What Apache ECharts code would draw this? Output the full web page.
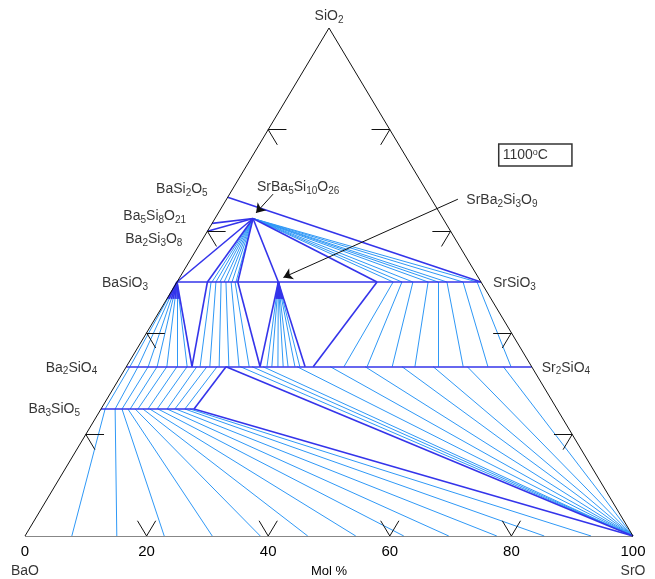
<!DOCTYPE html>
<html><head><meta charset="utf-8">
<script src="https://cdn.jsdelivr.net/npm/echarts@6/dist/echarts.min.js"></script>
<style>html,body{margin:0;padding:0;background:#fff}#c{width:655px;height:579px}</style>
</head><body><div id="c"></div>
<script>
// ---------- data (compositions: [SiO2 mol %, Sr/(Sr+Ba) cation %]) ----------
const tickValues = [0, 20, 40, 60, 80, 100];
const edgeMarks = [20, 40, 60, 80];
const temperatureLabel = '1100';

// phase points: name, SiO2 %, Sr cation %
const phaseNames = ['BaO','SrO','SiO2','BaSi2O5','Ba5Si8O21','Ba2Si3O8','SrBa5Si10O26','SrBa2Si3O9','BaSiO3','SrSiO3','Ba2SiO4','Sr2SiO4','Ba3SiO5'];
const phaseSiO2  = [0, 0, 100, 66.67, 61.54, 60, 62.5, 50, 50, 50, 33.33, 33.33, 25];
const phaseSr    = [0, 100, 0, 0, 0, 0, 16.67, 33.33, 0, 100, 0, 100, 0];

// joins (SiO2 level of each solid-solution line)
const META = 50, ORTHO = 100/3, OXY = 25, OXIDE = 0;

// boundary (dark) lines: [SiO2 a, Sr a, SiO2 b, Sr b]
const darkLines = [
  [66.67,0, 50,100],
  [62.5,16.67, 61.54,0],
  [62.5,16.67, 60,0],
  [62.5,16.67, 50,0],
  [62.5,16.67, 50,10],
  [62.5,16.67, 50,20],
  [62.5,16.67, 50,33.33],
  [62.5,16.67, 50,65.8],
  [50,0, 33.33,16.2],
  [33.33,16.2, 50,10],
  [50,20, 33.33,33],
  [33.33,33, 50,33.33],
  [50,33.33, 33.33,44.1],
  [50,65.8, 33.33,46.1],
  [33.33,24.6, 25,20.4],
  [33.33,24.6, 0,100],
  [25,20.4, 0,100],
  [50,0, 50,100],
  [33.33,0, 33.33,100],
  [25,0, 25,20.4]
];

// tie lines (light), Sr cation % on each join
const fanF_meta = [11.5, 12.8, 14.1, 15.5, 16.8, 18.1, 19.4, 71.1, 74, 77.6, 82.6, 85.9, 88.8, 94.1, 98.7];
const fanBaSiO3_ortho = [0.9, 2.9, 5.4, 7.6, 10, 12.5, 15];
const fanS9_ortho = [34.7, 35.9, 37.4, 38.7, 39.9, 41.6, 42.8];
const metaOrtho_meta  = [11.2, 12.8, 14.5, 16.1, 17.8, 19.1, 71.1, 74, 77.6, 82.6, 85.9, 88.8, 94.1, 98.7];
const metaOrtho_ortho = [18.2, 20.6, 22.9, 25.3, 27.8, 30.3, 53.7, 59.4, 65.6, 71.2, 76.9, 83.1, 89.2, 94.9];
const orthoOxy_ortho = [0.9, 2.9, 5.4, 7.6, 10, 12.5, 15, 17.4, 19.9, 22.4];
const orthoOxy_oxy   = [0.9, 3.1, 4.6, 6.4, 8.1, 10.3, 12.3, 14.5, 16.2, 18.4];
const fanSrO_ortho = [28.1, 31, 33.7, 42.1, 50.3, 58.9, 68, 75.7, 84.1, 93];
const oxyOxide_oxy   = [0.9, 3.1, 4.6, 5.9, 7.5, 9.2, 10.7, 12.5, 14.5, 16.4, 18.4, 19.5];
const oxyOxide_oxide = [7.7, 15.1, 22.9, 30.8, 38.7, 46.5, 54.4, 62.3, 69.7, 77.6, 85.4, 93.1];

// ---------- ternary -> cartesian ----------
function cart(s, r) { const sro = r * (100 - s) / 100; return [sro + s / 2, s]; }
function ph(name) { const i = phaseNames.indexOf(name); return cart(phaseSiO2[i], phaseSr[i]); }
function seg(a, b) { return { coords: [a, b] }; }
function along(a, b, f) { return [a[0] + (b[0] - a[0]) * f, a[1] + (b[1] - a[1]) * f]; }

const DARK = '#3434ea', LIGHT = '#2f98f6', INK = '#000';
const F = ph('SrBa5Si10O26'), S9 = ph('SrBa2Si3O9'), BS = ph('BaSiO3'), SRO = ph('SrO');

const lightSegs = [];
const blobSegs = [];   // dense convergence near BaSiO3 / SrBa2Si3O9 apexes
fanF_meta.forEach(r => lightSegs.push(seg(F, cart(META, r))));
fanBaSiO3_ortho.forEach(r => { const e = cart(ORTHO, r); lightSegs.push(seg(BS, e)); blobSegs.push(seg(BS, along(BS, e, 0.2))); });
fanS9_ortho.forEach(r => { const e = cart(ORTHO, r); lightSegs.push(seg(S9, e)); blobSegs.push(seg(S9, along(S9, e, 0.2))); });
metaOrtho_meta.forEach((r, i) => lightSegs.push(seg(cart(META, r), cart(ORTHO, metaOrtho_ortho[i]))));
orthoOxy_ortho.forEach((r, i) => lightSegs.push(seg(cart(ORTHO, r), cart(OXY, orthoOxy_oxy[i]))));
fanSrO_ortho.forEach(r => lightSegs.push(seg(cart(ORTHO, r), SRO)));
oxyOxide_oxy.forEach((r, i) => lightSegs.push(seg(cart(OXY, r), cart(OXIDE, oxyOxide_oxide[i]))));

const darkSegs = darkLines.map(d => seg(cart(d[0], d[1]), cart(d[2], d[3])));

const edgeSegs = [seg(ph('BaO'), ph('SrO')), seg(ph('SrO'), ph('SiO2')), seg(ph('SiO2'), ph('BaO'))];
const t = 3;
edgeMarks.forEach(v => {
  edgeSegs.push(seg([v, 0], [v - t / 2, t]));
  edgeSegs.push(seg([v, 0], [v + t / 2, t]));
  edgeSegs.push(seg([v / 2, v], [v / 2 + t, v]));
  edgeSegs.push(seg([v / 2, v], [v / 2 + t / 2, v - t]));
  edgeSegs.push(seg([100 - v / 2, v], [100 - v / 2 - t, v]));
  edgeSegs.push(seg([100 - v / 2, v], [100 - v / 2 - t / 2, v - t]));
});

// ---------- labels ----------
function chem(s) { return s.replace(/(\d+)/g, '{s|$1}'); }
const FONT = 'Liberation Sans';
const rich = { s: { fontSize: 10, fontFamily: FONT, color: INK, verticalAlign: 'bottom', lineHeight: 10 } };
function lab(name, pos, align, dx, dy, text) {
  return { value: pos, label: { show: true, formatter: chem(text || name), position: [dx, dy], align: align, verticalAlign: 'middle' } };
}
const labelData = [
  lab('SiO2', ph('SiO2'), 'center', 0, -12),
  lab('BaSi2O5', ph('BaSi2O5'), 'right', -20, -8),
  lab('Ba5Si8O21', ph('Ba5Si8O21'), 'right', -26, -7),
  lab('Ba2Si3O8', ph('Ba2Si3O8'), 'right', -25, 8),
  lab('BaSiO3', ph('BaSiO3'), 'right', -29, 1),
  lab('Ba2SiO4', ph('Ba2SiO4'), 'right', -29, 1),
  lab('Ba3SiO5', ph('Ba3SiO5'), 'right', -21, 0),
  lab('SrSiO3', ph('SrSiO3'), 'left', 12, 1),
  lab('Sr2SiO4', ph('Sr2SiO4'), 'left', 10, 1),
  lab('SrBa5Si10O26', F, 'left', 4, -31),
  lab('BaO', ph('BaO'), 'center', 0, 35),
  lab('SrO', ph('SrO'), 'center', 0, 35),
  lab('SrBa2Si3O9', [71.6, 66.5], 'left', 6, 2)
];

const chart = echarts.init(document.getElementById('c'), null, { renderer: 'canvas' });
chart.setOption({
  animation: false,
  backgroundColor: '#fff',
  grid: { left: 25, right: 22, top: 28, bottom: 43, containLabel: false, outerBoundsMode: 'none' },
  xAxis: {
    type: 'value', min: 0, max: 100, interval: 20,
    axisLine: { show: false }, axisTick: { show: false }, splitLine: { show: false },
    axisLabel: { show: true, color: INK, fontSize: 15, fontFamily: FONT, margin: 8, formatter: v => tickValues.includes(v) ? String(v) : '' },
    name: 'Mol %', nameLocation: 'middle', nameGap: 29, nameTextStyle: { color: INK, fontSize: 13, fontFamily: FONT }
  },
  yAxis: { type: 'value', min: 0, max: 100, show: false },
  series: [
    { type: 'lines', coordinateSystem: 'cartesian2d', polyline: false, silent: true, z: 1,
      lineStyle: { color: LIGHT, width: 1, opacity: 1 }, data: lightSegs },
    { type: 'lines', coordinateSystem: 'cartesian2d', polyline: false, silent: true, z: 2,
      lineStyle: { color: DARK, width: 1.6, opacity: 1 }, data: darkSegs.concat(blobSegs) },
    { type: 'lines', coordinateSystem: 'cartesian2d', polyline: false, silent: true, z: 3,
      lineStyle: { color: '#111', width: 1, opacity: 1 }, data: edgeSegs },
    { type: 'lines', coordinateSystem: 'cartesian2d', polyline: false, silent: true, z: 4,
      symbol: ['none', 'arrow'], symbolSize: 9,
      lineStyle: { color: '#111', width: 1, opacity: 1 },
      data: [ seg([40.8, 67.3], [38.0, 63.6]), seg([71.2, 66.3], [42.5, 50.9]) ] },
    { type: 'scatter', symbolSize: 0, silent: true, z: 5,
      label: { show: true, color: INK, fontSize: 14, fontFamily: FONT, lineHeight: 18, rich: rich },
      data: labelData },
    { type: 'scatter', symbolSize: 0, silent: true, z: 5,
      data: [{ value: [84.0, 75.0], label: { show: true, position: [-37, 0], align: 'left', verticalAlign: 'middle',
        formatter: temperatureLabel + '{o|o}C', color: INK, fontSize: 14, fontFamily: FONT,
        borderColor: INK, borderWidth: 1.5, padding: [4, 24, 4, 4],
        rich: { o: { fontSize: 9, verticalAlign: 'top', lineHeight: 14, fontFamily: FONT, color: INK } } } }] }
  ]
});
</script></body></html>
